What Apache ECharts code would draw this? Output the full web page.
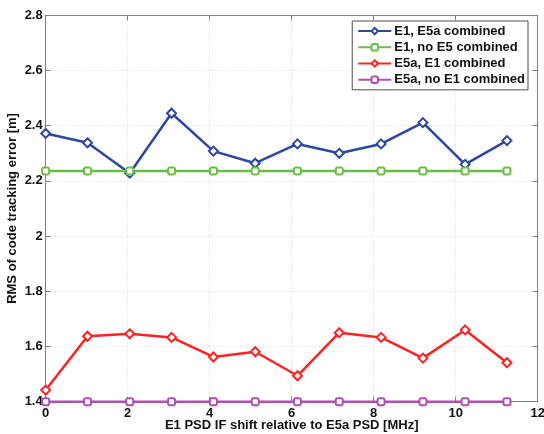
<!DOCTYPE html>
<html>
<head>
<meta charset="utf-8">
<script src="https://cdn.jsdelivr.net/npm/echarts@6/dist/echarts.min.js"></script>
<style>html,body{margin:0;padding:0;background:#fff;}#c{width:544px;height:434px;}</style>
</head>
<body>
<div id="c"></div>
<script>
const shiftMHz = [0, 1.02, 2.05, 3.07, 4.09, 5.11, 6.14, 7.16, 8.18, 9.2, 10.23, 11.25];
const e1E5aCombined = [2.372, 2.338, 2.228, 2.445, 2.308, 2.264, 2.334, 2.300, 2.334, 2.411, 2.260, 2.346];
const e1NoE5Combined = [2.236, 2.236, 2.236, 2.236, 2.236, 2.236, 2.236, 2.236, 2.236, 2.236, 2.236, 2.236];
const e5aE1Combined = [1.442, 1.637, 1.646, 1.633, 1.562, 1.581, 1.494, 1.650, 1.633, 1.558, 1.660, 1.541];
const e5aNoE1Combined = [1.4, 1.4, 1.4, 1.4, 1.4, 1.4, 1.4, 1.4, 1.4, 1.4, 1.4, 1.4];
const seriesNames = ['E1, E5a combined', 'E1, no E5 combined', 'E5a, E1 combined', 'E5a, no E1 combined'];
const xTitle = 'E1 PSD IF shift relative to E5a PSD [MHz]';
const yTitle = 'RMS of code tracking error [m]';

const FONT = '"Liberation Sans", Arial, sans-serif';
function pairs(xs, ys) { return xs.map((x, i) => [x, ys[i]]); }
function mk(name, ys, color, symbol, size) {
  return {
    name: name, type: 'line', data: pairs(shiftMHz, ys),
    symbol: symbol, symbolSize: size, showSymbol: true,
    lineStyle: { color: color, width: 2.5 },
    itemStyle: { color: '#ffffff', borderColor: color, borderWidth: 2 },
    emphasis: { disabled: true }, animation: false, z: 3
  };
}
const axisLineStyle = { color: '#7f7f7f', width: 1 };
const chart = echarts.init(document.getElementById('c'));
chart.setOption({
  backgroundColor: '#ffffff',
  animation: false,
  grid: { left: 45.7, right: 6.3, top: 15.3, bottom: 32.3, containLabel: false, outerBoundsMode: 'none' },
  legend: {
    orient: 'vertical', right: 16, top: 21,
    data: seriesNames,
    itemWidth: 33, itemHeight: 8, itemGap: 0,
    padding: [2, 3, 2, 5],
    backgroundColor: '#ffffff', borderColor: '#4d4d4d', borderWidth: 1,
    textStyle: { fontFamily: FONT, fontWeight: 'bold', fontSize: 13, color: '#111', lineHeight: 16.2, padding: [0, 0, 0, -2] }
  },
  xAxis: [{
    type: 'value', min: 0, max: 12, interval: 2,
    name: xTitle, nameLocation: 'middle', nameGap: 17, nameMoveOverlap: false,
    nameTextStyle: { fontFamily: FONT, fontWeight: 'bold', fontSize: 13, color: '#111' },
    axisLine: { show: true, onZero: false, lineStyle: axisLineStyle },
    axisTick: { show: true, inside: true, length: 5, lineStyle: axisLineStyle },
    axisLabel: { fontFamily: FONT, fontWeight: 'bold', fontSize: 13, color: '#111', margin: 5 },
    splitLine: { show: true, lineStyle: { color: '#d9d9d9', type: [1, 2], width: 1 } }
  }, {
    type: 'value', min: 0, max: 12, interval: 2, position: 'top',
    axisLine: { show: true, onZero: false, lineStyle: axisLineStyle },
    axisTick: { show: true, inside: true, length: 5, lineStyle: axisLineStyle },
    axisLabel: { show: false }, splitLine: { show: false }
  }],
  yAxis: [{
    type: 'value', min: 1.4, max: 2.8, interval: 0.2,
    name: yTitle, nameLocation: 'middle', nameGap: 27, nameMoveOverlap: false,
    nameTextStyle: { fontFamily: FONT, fontWeight: 'bold', fontSize: 13, color: '#111' },
    axisLine: { show: true, onZero: false, lineStyle: axisLineStyle },
    axisTick: { show: true, inside: true, length: 5, lineStyle: axisLineStyle },
    axisLabel: { fontFamily: FONT, fontWeight: 'bold', fontSize: 13, color: '#111', margin: 3,
      formatter: v => String(Math.round(v * 10) / 10) },
    splitLine: { show: true, lineStyle: { color: '#d9d9d9', type: [1, 2], width: 1 } }
  }, {
    type: 'value', min: 1.4, max: 2.8, interval: 0.2, position: 'right',
    axisLine: { show: true, onZero: false, lineStyle: axisLineStyle },
    axisTick: { show: true, inside: true, length: 5, lineStyle: axisLineStyle },
    axisLabel: { show: false }, splitLine: { show: false }
  }],
  series: [
    mk(seriesNames[0], e1E5aCombined, '#2b47a0', 'diamond', 9),
    mk(seriesNames[1], e1NoE5Combined, '#6abd45', 'roundRect', 7),
    mk(seriesNames[2], e5aE1Combined, '#ff2222', 'diamond', 9),
    mk(seriesNames[3], e5aNoE1Combined, '#b04fb0', 'roundRect', 7)
  ]
});
</script>
</body>
</html>
